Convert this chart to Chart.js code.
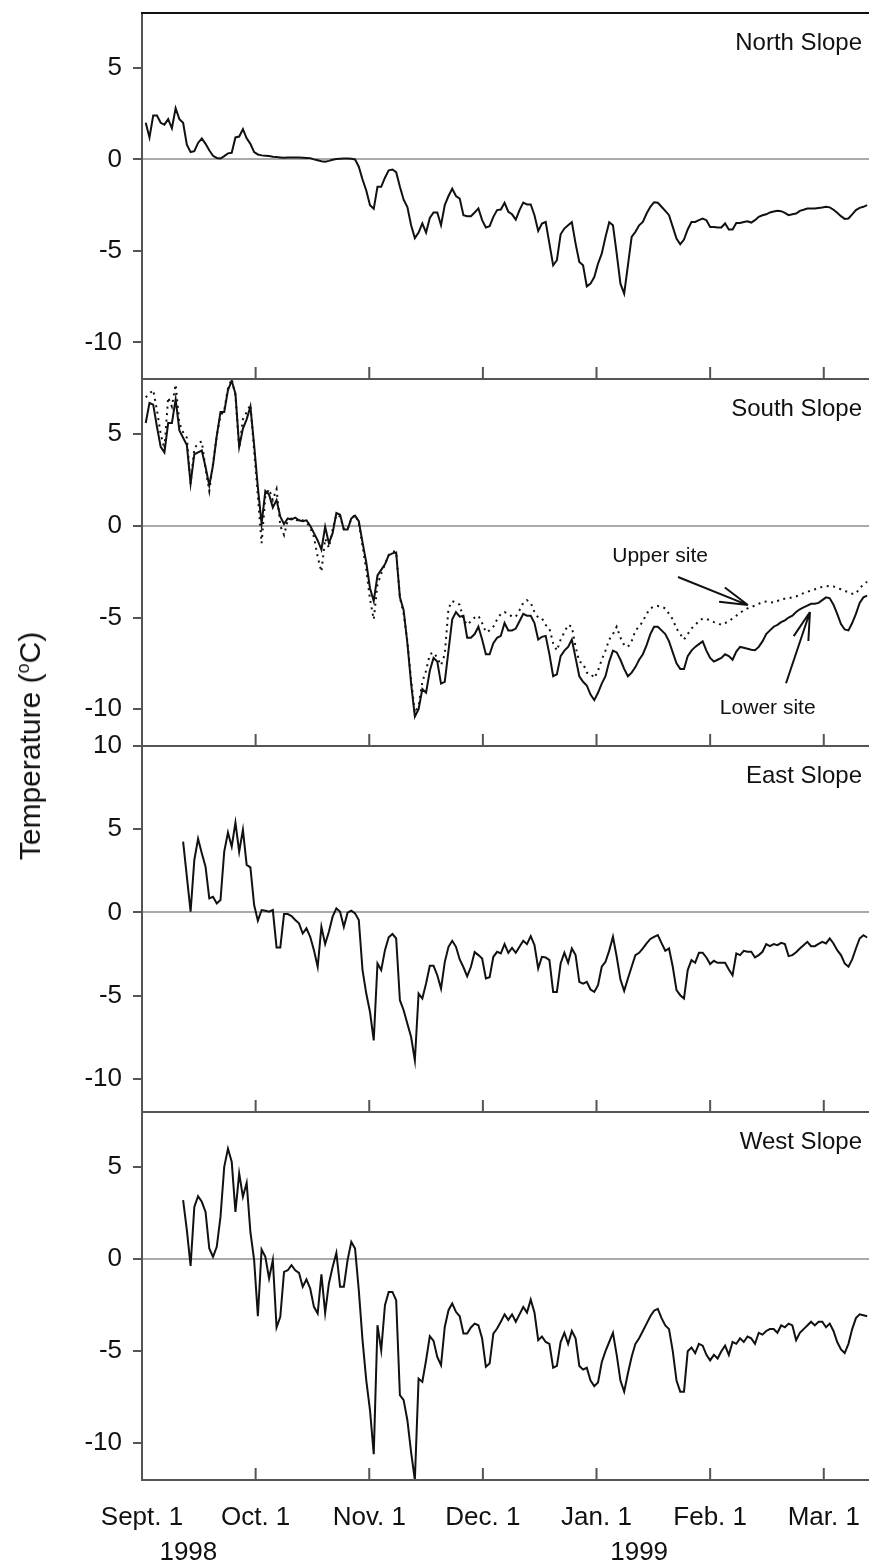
<!DOCTYPE html>
<html>
<head>
<meta charset="utf-8">
<script src="https://cdn.jsdelivr.net/npm/chart.js@4.4.0/dist/chart.umd.min.js"></script>
<style>
  body { margin: 0; background: #fff; }
  #wrap { position: relative; width: 869px; height: 1564px; overflow: hidden; font-family: "Liberation Sans", Arial, sans-serif; }
  #wrap canvas { position: absolute; left: 0; top: 0; }
  #ytitle { position: absolute; left: 30px; top: 746px; transform: translate(-50%, -50%) rotate(-90deg);
            font-size: 30px; white-space: nowrap; color: #111; }
  #ytitle sup { font-size: 60%; }
</style>
</head>
<body>
<div id="wrap">
  <canvas id="c0" width="869" height="1564"></canvas>
  <canvas id="c1" width="869" height="1564"></canvas>
  <canvas id="c2" width="869" height="1564"></canvas>
  <canvas id="c3" width="869" height="1564"></canvas>
  <div id="ytitle">Temperature (<sup>o</sup>C)</div>
</div>
<script>
// x = days since Sept. 1 1998, daily values (deg C)
const xTickDays = [0, 30.4, 60.8, 91.2, 121.6, 152, 182.4];
const xTickLabels = ["Sept. 1", "Oct. 1", "Nov. 1", "Dec. 1", "Jan. 1", "Feb. 1", "Mar. 1"];
const yearLabels = ["1998", "1999"];
const yTicks = [-10, -5, 0, 5];
const yTicksEast = [-10, -5, 0, 5, 10];
const panelNames = ["North Slope", "South Slope", "East Slope", "West Slope"];

const northStart = 1;
const north = [
  2.0,1.2,2.4,2.4,2.0,1.9,2.2,1.7,2.8,2.2,
  2.0,0.8,0.4,0.45,0.9,1.15,0.85,0.5,0.2,0.08,
  0.05,0.18,0.33,0.36,1.2,1.25,1.65,1.15,0.85,0.4,
  0.27,0.22,0.2,0.18,0.14,0.13,0.11,0.09,0.1,0.11,
  0.11,0.1,0.09,0.08,0.07,0.0,-0.05,-0.1,-0.13,-0.08,
  -0.02,0.02,0.04,0.05,0.05,0.03,0.0,-0.4,-1.1,-1.7,
  -2.5,-2.7,-1.5,-1.5,-1.0,-0.6,-0.55,-0.7,-1.5,-2.2,
  -2.6,-3.6,-4.3,-4.0,-3.5,-4.0,-3.2,-2.9,-2.9,-3.6,
  -2.5,-2.0,-1.6,-2.0,-2.14,-3.05,-3.1,-3.1,-2.9,-2.68,
  -3.32,-3.72,-3.65,-3.14,-2.77,-2.74,-2.37,-2.86,-3.0,-3.29,
  -2.77,-2.36,-2.46,-2.46,-3.05,-3.91,-3.5,-3.42,-4.6,-5.79,
  -5.51,-4.09,-3.78,-3.6,-3.43,-4.6,-5.6,-5.79,-6.94,-6.79,
  -6.43,-5.7,-5.15,-4.24,-3.43,-3.6,-5.15,-6.79,-7.34,-5.79,
  -4.24,-3.96,-3.6,-3.42,-2.96,-2.59,-2.34,-2.37,-2.59,-2.81,
  -3.05,-3.69,-4.33,-4.64,-4.38,-3.83,-3.42,-3.42,-3.32,-3.23,
  -3.32,-3.69,-3.69,-3.72,-3.72,-3.5,-3.83,-3.83,-3.47,-3.47,
  -3.42,-3.38,-3.45,-3.32,-3.14,-3.05,-3.0,-2.9,-2.85,-2.81,
  -2.83,-2.92,-3.05,-3.0,-2.96,-2.81,-2.75,-2.68,-2.68,-2.68,
  -2.65,-2.63,-2.59,-2.62,-2.75,-2.92,-3.1,-3.25,-3.23,-3.0,
  -2.77,-2.65,-2.59,-2.5
];

const southStart = 1;
const southLower = [
  5.6,6.7,6.6,5.4,4.3,4.0,5.6,5.6,6.9,5.2,
  4.8,4.4,2.3,3.9,4.0,4.1,3.2,2.2,3.3,4.9,
  6.2,6.2,7.4,7.9,7.2,4.3,5.3,5.8,6.5,4.4,
  2.1,0.1,1.9,1.7,1.0,1.4,0.5,0.1,0.4,0.35,
  0.45,0.3,0.25,0.3,0.0,-0.4,-0.8,-1.3,-0.05,-0.95,
  -0.4,0.7,0.6,-0.2,-0.2,0.4,0.55,0.25,-0.9,-2.0,
  -3.4,-4.1,-2.7,-2.4,-2.1,-1.6,-1.5,-1.45,-3.9,-4.6,
  -6.4,-8.6,-10.4,-10.0,-8.9,-9.1,-7.9,-7.2,-7.4,-8.6,
  -8.5,-6.8,-5.1,-4.7,-4.95,-4.9,-6.1,-6.1,-5.9,-5.5,
  -6.2,-7.0,-7.0,-6.4,-6.1,-6.0,-5.3,-5.7,-5.7,-5.6,
  -5.2,-4.8,-4.9,-4.9,-5.3,-6.2,-6.05,-6.0,-7.0,-8.2,
  -8.1,-7.1,-6.8,-6.6,-6.2,-7.2,-8.2,-8.5,-8.7,-9.2,
  -9.5,-9.1,-8.6,-8.2,-7.4,-6.8,-6.9,-7.3,-7.8,-8.2,
  -8.0,-7.7,-7.3,-7.0,-6.5,-5.9,-5.5,-5.5,-5.7,-5.9,
  -6.3,-6.9,-7.5,-7.8,-7.8,-7.1,-6.8,-6.6,-6.45,-6.3,
  -6.8,-7.2,-7.4,-7.3,-7.2,-7.0,-7.1,-7.3,-6.85,-6.6,
  -6.65,-6.7,-6.75,-6.78,-6.6,-6.3,-5.9,-5.7,-5.5,-5.4,
  -5.25,-5.15,-5.0,-4.9,-4.7,-4.55,-4.45,-4.35,-4.25,-4.25,
  -4.2,-4.05,-3.9,-3.95,-4.3,-4.8,-5.35,-5.65,-5.7,-5.3,
  -4.8,-4.2,-3.9,-3.8
];
const southUpper = [
  7.0,7.2,7.4,6.3,5.0,4.2,7.0,6.5,7.7,5.6,
  5.1,4.8,2.3,4.2,4.5,4.6,3.1,1.9,3.4,4.9,
  6.0,6.3,7.5,8.0,7.1,4.2,5.8,6.2,6.6,4.1,
  1.6,-0.95,1.6,2.0,1.4,2.0,0.0,-0.5,0.3,0.4,
  0.35,0.25,0.3,0.2,-0.1,-0.6,-1.7,-2.5,-0.7,-1.2,
  -0.2,0.6,0.5,-0.2,-0.2,0.4,0.6,0.15,-1.1,-2.4,
  -4.0,-5.1,-3.2,-2.6,-2.1,-1.6,-1.4,-1.4,-3.9,-4.8,
  -6.3,-8.4,-10.2,-9.8,-8.5,-7.9,-7.0,-6.9,-7.2,-7.6,
  -7.0,-4.5,-4.1,-4.2,-4.3,-5.1,-5.4,-5.2,-5.0,-4.9,
  -5.3,-5.8,-5.7,-5.5,-5.1,-4.8,-4.7,-4.8,-4.95,-4.95,
  -4.6,-4.2,-4.05,-4.2,-4.7,-5.0,-5.05,-5.4,-5.6,-6.4,
  -6.8,-6.2,-5.8,-5.4,-5.5,-6.6,-7.4,-7.5,-8.0,-8.05,
  -8.3,-7.9,-7.3,-6.8,-6.2,-5.9,-5.5,-6.1,-6.5,-6.6,
  -6.3,-5.7,-5.5,-5.2,-4.8,-4.5,-4.4,-4.37,-4.41,-4.5,
  -4.8,-5.1,-5.6,-5.9,-6.2,-5.9,-5.6,-5.4,-5.2,-5.05,
  -5.08,-5.15,-5.25,-5.3,-5.4,-5.3,-5.2,-5.05,-4.9,-4.75,
  -4.6,-4.5,-4.42,-4.35,-4.25,-4.15,-4.13,-4.15,-4.19,-4.1,
  -4.0,-3.97,-3.95,-3.9,-3.85,-3.75,-3.67,-3.6,-3.52,-3.46,
  -3.4,-3.33,-3.3,-3.28,-3.3,-3.4,-3.46,-3.55,-3.62,-3.7,
  -3.7,-3.4,-3.2,-3.05
];

const eastStart = 11;
const east = [
  4.25,2.15,0.04,3.15,4.42,3.55,2.75,0.84,0.94,0.54,
  0.74,3.65,4.8,3.95,5.4,3.65,4.96,2.85,2.71,0.44,
  -0.5,0.14,0.1,0.04,0.14,-2.11,-2.11,-0.1,-0.1,-0.22,
  -0.46,-0.66,-1.27,-0.96,-1.47,-2.27,-3.27,-0.87,-1.91,-1.17,
  -0.26,0.24,0.04,-0.87,-0.02,0.1,-0.06,-0.46,-3.47,-4.88,
  -5.99,-7.7,-3.07,-3.47,-2.27,-1.5,-1.3,-1.57,-5.28,-5.88,
  -6.69,-7.49,-8.9,-4.88,-5.18,-4.28,-3.21,-3.21,-3.78,-4.58,
  -2.99,-2.07,-1.71,-2.07,-2.83,-3.3,-3.85,-3.27,-2.39,-2.57,
  -2.77,-3.97,-3.9,-2.67,-2.37,-2.47,-1.91,-2.43,-2.13,-2.43,
  -2.07,-1.71,-1.91,-1.43,-1.97,-3.37,-2.67,-2.71,-2.87,-4.78,
  -4.78,-3.07,-2.43,-3.03,-2.17,-2.57,-4.18,-4.28,-4.18,-4.64,
  -4.78,-4.38,-3.27,-2.97,-2.3,-1.47,-2.67,-4.04,-4.72,-3.98,
  -3.27,-2.57,-2.43,-2.17,-1.87,-1.6,-1.47,-1.37,-1.85,-2.31,
  -2.17,-3.27,-4.68,-4.98,-5.18,-3.47,-2.87,-3.03,-2.43,-2.43,
  -2.71,-3.11,-2.91,-3.03,-3.03,-3.03,-3.43,-3.78,-2.47,-2.57,
  -2.31,-2.37,-2.37,-2.71,-2.57,-2.37,-1.91,-2.03,-1.91,-1.97,
  -1.83,-1.91,-2.63,-2.57,-2.4,-2.17,-1.97,-1.77,-2.03,-2.03,
  -1.9,-1.77,-1.87,-1.57,-1.87,-2.27,-2.57,-3.07,-3.27,-2.83,
  -2.17,-1.57,-1.37,-1.51
];

const westStart = 11;
const west = [
  3.21,1.58,-0.36,2.84,3.42,3.12,2.57,0.58,0.13,0.67,
  2.3,5.02,6.01,5.3,2.57,4.66,3.39,4.15,1.49,-0.05,
  -3.1,0.53,0.13,-1.05,-0.05,-3.71,-3.13,-0.69,-0.6,-0.33,
  -0.6,-0.74,-1.5,-1.1,-1.59,-2.59,-2.95,-0.82,-2.92,-1.32,
  -0.42,0.34,-1.5,-1.5,-0.05,0.94,0.58,-1.68,-4.4,-6.58,
  -8.21,-10.6,-3.59,-4.95,-2.5,-1.78,-1.78,-2.23,-7.39,-7.66,
  -8.75,-10.5,-12.0,-6.49,-6.67,-5.49,-4.18,-4.44,-5.31,-5.76,
  -3.68,-2.77,-2.41,-2.86,-3.1,-4.04,-4.04,-3.71,-3.5,-3.59,
  -4.31,-5.85,-5.67,-4.04,-3.77,
  -3.4,-3.0,-3.3,-3.0,-3.4,-3.0,-2.6,-2.9,-2.2,-2.9,-4.4,-4.2,-4.5,-4.6,-5.9,
  -5.8,-4.5,-4.0,-4.6,-3.9,-4.3,-5.8,-6.0,-5.9,-6.6,-6.9,
  -6.7,-5.6,-5.0,-4.5,-4.0,-5.2,-6.6,-7.2,-6.2,-5.3,
  -4.6,-4.3,-3.9,-3.5,-3.1,-2.8,-2.7,-3.2,-3.6,-3.8,-5.0,-6.6,-7.2,-7.2,
  -5.0,-4.8,-5.1,-4.6,-4.7,-5.2,-5.5,-5.2,-5.4,-5.0,-4.7,-5.2,-4.5,-4.6,-4.3,
  -4.5,-4.2,-4.3,-4.6,-4.0,-4.1,-3.9,-3.8,-3.8,-4.0,
  -3.6,-3.7,-3.5,-3.6,-4.4,-4.0,-3.8,-3.6,-3.4,-3.6,
  -3.4,-3.4,-3.7,-3.5,-3.9,-4.5,-4.9,-5.1,-4.6,-3.8,
  -3.2,-3.0,-3.05,-3.1
];

const toPoints = (start, vals) => vals.map((v, i) => ({ x: start + i, y: v }));

const FONT = '"Liberation Sans", Arial, sans-serif';
const panelTop = [13, 379, 746, 1112];
const panelBottom = [379, 746, 1112, 1480];

// no extra room for labels: plot areas must stack exactly
const noPad = s => { s.paddingTop = 0; s.paddingBottom = 0; s.paddingLeft = 0; s.paddingRight = 0; };

// frame, inward x ticks and panel name
const panelFrame = {
  id: 'panelFrame',
  afterDraw(chart, args, opts) {
    const { ctx, chartArea: a, scales: { x } } = chart;
    ctx.save();
    ctx.lineWidth = 2;
    ctx.strokeStyle = opts.topColor;
    ctx.beginPath();
    ctx.moveTo(a.left - 1, a.top);
    ctx.lineTo(a.right, a.top);
    ctx.stroke();
    ctx.strokeStyle = '#555';
    ctx.beginPath();
    if (opts.bottomLine) {
      ctx.moveTo(a.left - 1, a.bottom);
      ctx.lineTo(a.right, a.bottom);
    }
    xTickDays.forEach(d => {
      if (d === 0) return;
      const px = x.getPixelForValue(d);
      ctx.moveTo(px, a.bottom);
      ctx.lineTo(px, a.bottom - 12);
    });
    ctx.stroke();
    ctx.fillStyle = '#111';
    ctx.font = '24px ' + FONT;
    ctx.textAlign = 'right';
    ctx.textBaseline = 'middle';
    ctx.fillText(opts.title, a.right - 7, a.top + opts.titleDy);
    if (opts.years) {
      ctx.font = '26px ' + FONT;
      ctx.textAlign = 'center';
      ctx.textBaseline = 'alphabetic';
      opts.years.forEach((t, i) => ctx.fillText(t, x.getPixelForValue(opts.yearDays[i]), opts.yearY));
    }
    ctx.restore();
  }
};

// "Upper site" / "Lower site" notes with arrows
const notes = {
  id: 'notes',
  afterDatasetsDraw(chart, args, opts) {
    if (!opts.items) return;
    const { ctx, scales: { x, y } } = chart;
    ctx.save();
    ctx.fillStyle = '#111';
    ctx.strokeStyle = '#111';
    ctx.lineWidth = 2;
    ctx.font = '21px ' + FONT;
    ctx.textAlign = 'left';
    ctx.textBaseline = 'middle';
    opts.items.forEach(n => {
      ctx.fillText(n.text, x.getPixelForValue(n.at[0]), y.getPixelForValue(n.at[1]));
      const x0 = x.getPixelForValue(n.from[0]), y0 = y.getPixelForValue(n.from[1]);
      const x1 = x.getPixelForValue(n.to[0]), y1 = y.getPixelForValue(n.to[1]);
      const ang = Math.atan2(y0 - y1, x0 - x1);
      ctx.beginPath();
      ctx.moveTo(x0, y0);
      ctx.lineTo(x1, y1);
      [-0.27, 0.27].forEach(da => {
        ctx.moveTo(x1, y1);
        ctx.lineTo(x1 + 29 * Math.cos(ang + da), y1 + 29 * Math.sin(ang + da));
      });
      ctx.stroke();
    });
    ctx.restore();
  }
};

function makePanel(i, datasets, ticks, yMin, yMax, extra) {
  const last = i === 3;
  new Chart(document.getElementById('c' + i), {
    type: 'line',
    data: { datasets: datasets },
    plugins: [panelFrame, notes],
    options: {
      responsive: false,
      animation: false,
      events: [],
      layout: { padding: { left: 0, right: 0, top: panelTop[i], bottom: last ? 0 : 1564 - panelBottom[i] } },
      elements: { point: { radius: 0 }, line: { tension: 0, borderWidth: 2, borderColor: '#111' } },
      plugins: {
        legend: { display: false },
        tooltip: { enabled: false },
        panelFrame: Object.assign({ topColor: i === 0 ? '#111' : '#555', title: panelNames[i], titleDy: 30, bottomLine: last }, extra.frame || {}),
        notes: extra.notes || {}
      },
      scales: {
        x: {
          type: 'linear', min: 0, max: 194.5,
          display: last,
          afterBuildTicks: s => { s.ticks = xTickDays.map(v => ({ value: v })); },
          afterFit: s => { s.height = last ? 84 : 0; noPad(s); },
          grid: { display: false, drawTicks: false },
          border: { display: false },
          ticks: {
            autoSkip: false, maxRotation: 0, padding: 22, color: '#111',
            font: { family: FONT, size: 26 },
            callback: (v, idx) => xTickLabels[idx]
          }
        },
        y: {
          min: yMin, max: yMax,
          afterBuildTicks: s => { s.ticks = ticks.map(v => ({ value: v })); },
          afterFit: s => { s.width = 142; noPad(s); },
          border: { color: '#555', width: 2 },
          grid: {
            color: c => (c.tick && c.tick.value === 0) ? '#aaa' : 'rgba(0,0,0,0)',
            tickColor: '#555', tickLength: 9, lineWidth: 2
          },
          ticks: { padding: 11, color: '#111', font: { family: FONT, size: 26 } }
        }
      }
    }
  });
}

makePanel(0, [{ data: toPoints(northStart, north) }], yTicks, -12, 8, {});
makePanel(1, [
  { data: toPoints(southStart, southUpper), borderDash: [2, 4.5], borderWidth: 2 },
  { data: toPoints(southStart, southLower) }
], yTicks, -12, 8, {
  notes: { items: [
    { text: 'Upper site', at: [125.8, -1.64], from: [143.4, -2.79], to: [162.1, -4.32] },
    { text: 'Lower site', at: [154.6, -9.95], from: [172.3, -8.58], to: [178.7, -4.70] }
  ] }
});
makePanel(2, [{ data: toPoints(eastStart, east) }], yTicksEast, -12, 10, {});
makePanel(3, [{ data: toPoints(westStart, west) }], yTicks, -12, 8, {
  frame: { years: yearLabels, yearDays: [12.4, 133], yearY: 1560 }
});
</script>
</body>
</html>
